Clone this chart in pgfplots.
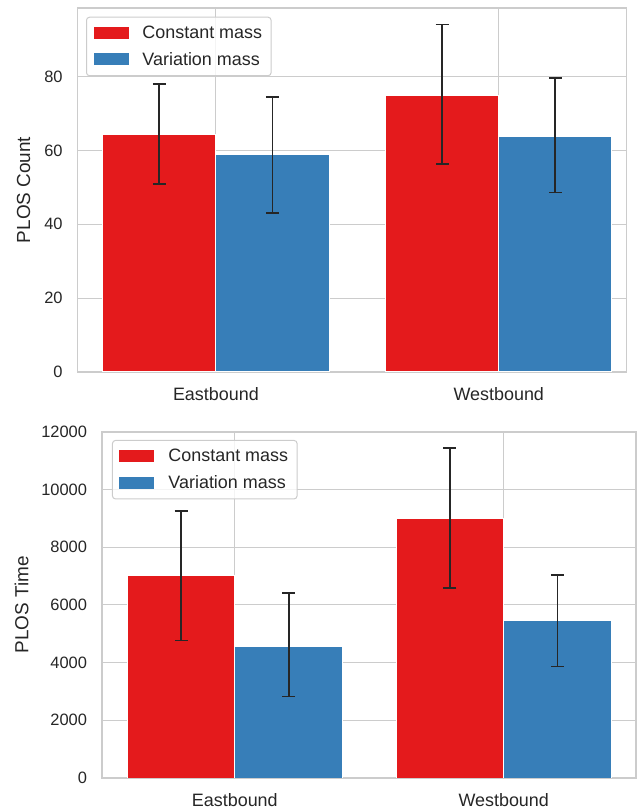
\documentclass[border=0pt]{standalone}
\usepackage{pgfplots}
\pgfplotsset{compat=1.18}
\usepackage{fontspec}
\setmainfont{Liberation Sans}
\definecolor{cred}{HTML}{E41A1C}
\definecolor{cblue}{HTML}{377EB8}
\definecolor{gridc}{HTML}{CCCCCC}
\definecolor{txt}{HTML}{262626}
\newcommand{\fs}{\fontsize{16.5}{19}\selectfont}
\newcommand{\fx}{\fontsize{18}{21}\selectfont}
\newcommand{\fl}{\fontsize{19}{22}\selectfont}
\pgfplotsset{
  mystyle/.style={
    scale only axis, anchor=south west,
    axis line style={gridc, line width=1.25bp},
    major tick length=0pt,
    xmajorgrids, ymajorgrids,
    major grid style={gridc, line width=1bp},
    yticklabel style={font=\fs, color=txt, xshift=-11.5bp},
    xticklabel style={font=\fx, color=txt, yshift=-11.5bp},
    label style={font=\fl, color=txt},
    /pgf/number format/assume math mode=true,
    /pgf/number format/1000 sep={},
    xtick={0,1}, xticklabels={Eastbound,Westbound},
    ymin=0,
    legend cell align=left,
    legend style={draw=gridc, line width=1bp, rounded corners=3bp, fill=white, fill opacity=0.8, text opacity=1,
      font=\fx, text=txt, anchor=north west, inner xsep=7bp, inner ysep=7bp,
      row sep=8bp, /tikz/every odd column/.append style={column sep=12bp}},
    legend image code/.code={\fill[#1, draw=none, fill opacity=1, sharp corners] (0bp,-6bp) rectangle (35bp,6bp);},
    bar width=0.4, bar shift=0pt,
    error bars/y dir=both, error bars/y explicit,
    error bars/error bar style={line width=1.8bp, color=txt},
    error bars/error mark options={rotate=90, mark size=6.5bp, line width=1.8bp, color=txt},
  }
}
\begin{document}
\begin{tikzpicture}
\useasboundingbox (0,0) rectangle (640bp,809bp);
% top axis
\begin{axis}[mystyle,
  at={(77.6bp,437bp)}, width=549bp, height=364bp,
  xmin=-0.489, xmax=1.452, ymax=98.6,
  ytick={0,20,40,60,80},
  ylabel={PLOS Count},
  ylabel style={at={(axis description cs:-0.0984,0.5)}, anchor=center, rotate=0},
  legend style={at={(axis description cs:0.0153,0.976)}},
]
\addplot[ybar, fill=cred, draw=white, line width=1bp] coordinates {
  (-0.2,64.4) += (0,13.7) -= (0,13.4)
  (0.8,74.8) += (0,19.3) -= (0,18.4)
};
\addplot[ybar, fill=cblue, draw=white, line width=1bp] coordinates {
  (0.2,58.9) += (0,15.6) -= (0,15.8)
  (1.2,63.8) += (0,15.8) -= (0,15.2)
};
\legend{Constant mass, Variation mass}
\end{axis}
% bottom axis
\begin{axis}[mystyle,
  at={(102bp,31bp)}, width=534bp, height=346bp,
  xmin=-0.494, xmax=1.492, ymax=12000,
  ytick={0,2000,4000,6000,8000,10000,12000},
  scaled y ticks=false,
  ylabel={PLOS Time},
  ylabel style={at={(axis description cs:-0.1507,0.5)}, anchor=center, rotate=0},
  legend style={at={(axis description cs:0.0187,0.977)}},
]
\addplot[ybar, fill=cred, draw=white, line width=1bp] coordinates {
  (-0.2,7010) += (0,2240) -= (0,2240)
  (0.8,9000) += (0,2450) -= (0,2410)
};
\addplot[ybar, fill=cblue, draw=white, line width=1bp] coordinates {
  (0.2,4570) += (0,1850) -= (0,1740)
  (1.2,5450) += (0,1600) -= (0,1580)
};
\legend{Constant mass, Variation mass}
\end{axis}
\end{tikzpicture}
\end{document}
